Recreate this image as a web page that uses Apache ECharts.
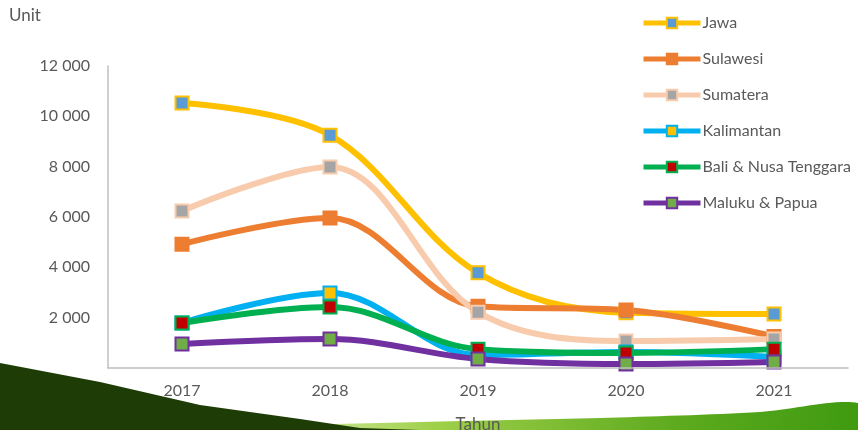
<!DOCTYPE html>
<html>
<head>
<meta charset="utf-8">
<style>
  html, body { margin: 0; padding: 0; background: #fff; }
  #chart { width: 858px; height: 430px; }
</style>
<script src="https://cdn.jsdelivr.net/npm/echarts@6/dist/echarts.min.js"></script>
</head>
<body>
<div id="chart"></div>
<script>
const years = ["2017", "2018", "2019", "2020", "2021"];
const jawa = [10530, 9250, 3780, 2200, 2150];
const sulawesi = [4920, 5960, 2450, 2300, 1250];
const sumatera = [6240, 7990, 2220, 1070, 1150];
const kalimantan = [1790, 2980, 520, 640, 440];
const baliNusa = [1790, 2420, 750, 600, 750];
const malukuPapua = [950, 1150, 360, 160, 240];

const seriesList = [
  { name: "Jawa", data: jawa, line: "#FFC000", fill: "#5B9BD5" },
  { name: "Sulawesi", data: sulawesi, line: "#ED7D31", fill: "#ED7D31" },
  { name: "Sumatera", data: sumatera, line: "#F8CBAD", fill: "#A5A5A5" },
  { name: "Kalimantan", data: kalimantan, line: "#00B0F0", fill: "#FFC000" },
  { name: "Bali & Nusa Tenggara", data: baliNusa, line: "#00B050", fill: "#C00000" },
  { name: "Maluku & Papua", data: malukuPapua, line: "#7030A0", fill: "#70AD47" }
];

const font = "Lato, 'Open Sans', sans-serif";
const textColor = "#595959";

const chart = echarts.init(document.getElementById("chart"));
chart.setOption({
  animation: false,
  textStyle: { fontFamily: font },
  graphic: [
    {
      type: "polygon",
      z: -10,
      silent: true,
      shape: {
        points: [[250, 427], [420, 422], [600, 418], [760, 412], [858, 403], [858, 430], [250, 430]],
        smooth: 0.3
      },
      style: {
        fill: new echarts.graphic.LinearGradient(0, 0, 1, 0, [
          { offset: 0, color: "rgba(190,225,120,0.6)" },
          { offset: 0.3, color: "#9FD04A" },
          { offset: 0.7, color: "#5DAA1E" },
          { offset: 1, color: "#3E9A10" }
        ])
      }
    },
    {
      type: "polygon",
      z: -9,
      silent: true,
      shape: {
        points: [[0, 363], [100, 382], [200, 405], [300, 419], [360, 428], [420, 430], [0, 430]]
      },
      style: { fill: "#1E3D06" }
    },
    {
      type: "text",
      left: 9,
      top: 7,
      style: { text: "Unit", fill: textColor, font: "17px " + font }
    }
  ],
  legend: {
    orient: "vertical",
    left: 636,
    top: 10,
    itemWidth: 57,
    itemHeight: 13,
    itemGap: 20,
    lineStyle: { width: 5 },
    textStyle: { color: textColor, fontSize: 16, fontFamily: font, padding: [0, 0, 0, -3] },
    data: seriesList.map(s => s.name)
  },
  grid: { left: 108, right: 10, top: 66, bottom: 62, outerBoundsMode: "none" },
  xAxis: {
    type: "category",
    z: 10,
    data: years,
    name: "Tahun",
    nameLocation: "middle",
    nameGap: 48,
    nameTextStyle: { color: textColor, fontSize: 17 },
    axisLine: { lineStyle: { color: "#BFBFBF", width: 1.5 } },
    axisTick: { show: false },
    axisLabel: { color: textColor, fontSize: 16, margin: 15 }
  },
  yAxis: {
    type: "value",
    min: 0,
    max: 12000,
    interval: 2000,
    axisLine: { show: true, lineStyle: { color: "#BFBFBF", width: 1.5 } },
    axisTick: { show: false },
    splitLine: { show: false },
    axisLabel: {
      color: textColor,
      fontSize: 16,
      margin: 18,
      formatter: v => v === 0 ? "" : String(v).replace(/\B(?=(\d{3})+(?!\d))/g, " ")
    }
  },
  series: seriesList.map(s => ({
    name: s.name,
    type: "line",
    data: s.data,
    smooth: 0.35,
    symbol: "rect",
    symbolSize: 13,
    lineStyle: { color: s.line, width: 6 },
    itemStyle: { color: s.fill, borderColor: s.line, borderWidth: 2 }
  }))
});
</script>
</body>
</html>
